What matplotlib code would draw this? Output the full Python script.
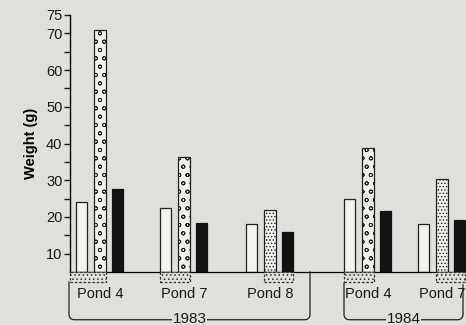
import numpy as np
import matplotlib.pyplot as plt
from matplotlib.patches import Rectangle

plt.rcParams['font.family'] = ['Liberation Sans', 'DejaVu Sans']
plt.rcParams['hatch.linewidth'] = 0.6

# Datos
ponds = ["Pond 4", "Pond 7", "Pond 8", "Pond 4", "Pond 7"]
years = ["1983", "1983", "1983", "1984", "1984"]
white_vals = [24.0, 22.3, 18.2, 24.9, 18.0]
stipple_vals = [71.0, 36.3, 21.8, 38.9, 30.4]
black_vals = [27.5, 18.3, 16.0, 21.5, 19.1]
stipple_kind = ["o", "o", "dense", "o", "dense"]

# Diseño
bg = '#dfe0db'
centers = [30, 114, 200, 298, 372]
offs = [-18.5, 0, 17.5]
w = 11.5

fig = plt.figure(figsize=(4.66, 3.25), dpi=100, facecolor=bg)
ax = fig.add_axes([70/466, (325-272)/325, (466-70)/466, (272-15)/325])
ax.set_facecolor(bg)
ax.set_xlim(0, 396)
ax.set_ylim(5, 75)

for i, c in enumerate(centers):
    ax.bar(c + offs[0], white_vals[i] - 5, w, bottom=5, color='#f2f2ee',
           edgecolor='#222222', linewidth=0.9)
    hatch = 'oo' if stipple_kind[i] == "o" else '.....'
    ax.bar(c + offs[1], stipple_vals[i] - 5, w, bottom=5, color='#f0f0ec',
           edgecolor='#222222', linewidth=0.9, hatch=hatch)
    ax.bar(c + offs[2], black_vals[i] - 5, w, bottom=5, color='#111111',
           edgecolor='#111111', linewidth=0.9)
    # caja punteada bajo la línea base
    if stipple_kind[i] == "o":
        x0 = c + offs[0] - w/2
        x1 = c + offs[1] + w/2
    else:
        x0 = c + offs[1] - w/2
        x1 = c + offs[2] + w/2
    if i == 0:
        x0 = 0
    ax.add_patch(Rectangle((x0, 2.3), x1 - x0, 2.7, facecolor=bg,
                           edgecolor='#333333', linewidth=0.9, linestyle=(0, (2, 1.5)),
                           hatch='....', clip_on=False, zorder=3))
    ax.text(c, -1.0, ponds[i], ha='center', va='center', fontsize=10.5, color='#1a1a1a')


def brace(x0, x1, yl, yr, yb, label):
    rx, ry = 5, 1.4
    t = np.linspace(0, np.pi/2, 10)
    xs = [x0] + list(x0 + rx - rx*np.cos(t)) + list(x1 - rx + rx*np.sin(t)) + [x1]
    ys = [yl] + list(yb + ry - ry*np.sin(t)) + list(yb + ry - ry*np.cos(t)) + [yr]
    ax.plot(xs, ys, color='#222222', linewidth=0.9, clip_on=False)
    ax.text((x0 + x1)/2, yb + 0.2, label, ha='center', va='center', fontsize=11,
            color='#1a1a1a', bbox=dict(facecolor=bg, edgecolor='none', pad=0.5))


brace(-1, 240, 2.3, 5, -8.0, "1983")
brace(274, 393, 2.0, 1.5, -8.0, "1984")

ax.spines['top'].set_visible(False)
ax.spines['right'].set_visible(False)
ax.spines['left'].set_linewidth(1.0)
ax.spines['bottom'].set_linewidth(0.9)
ax.set_xticks([])
ax.set_yticks([10, 20, 30, 40, 50, 60, 70, 75])
ax.set_yticks([15, 25, 35, 45, 55, 65], minor=True)
ax.tick_params(axis='y', which='both', direction='out', length=4.5, width=1.0,
               labelsize=10.5, pad=1, colors='#1a1a1a')
ax.set_ylabel("Weight (g)", fontsize=10.5, fontweight='bold', labelpad=6)

fig.savefig("out.png", dpi=100, facecolor=bg)
